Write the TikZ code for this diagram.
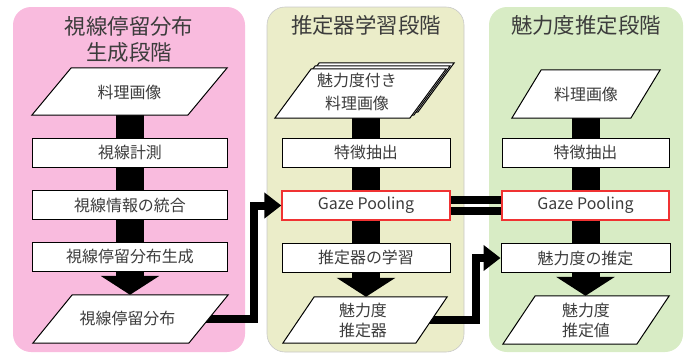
\documentclass[tikz,border=0pt]{standalone}
\usepackage{fontspec}
\setmainfont{Noto Sans CJK JP}
\usetikzlibrary{arrows.meta}
\definecolor{pinkbg}{RGB}{249,187,222}
\definecolor{olivebg}{RGB}{235,237,201}
\definecolor{greenbg}{RGB}{216,236,197}
\definecolor{txt}{RGB}{60,60,60}
\definecolor{gpred}{RGB}{240,50,50}
\definecolor{pline}{RGB}{200,200,200}
\newcommand{\pgshape}[4]{\draw[pgram] ([shift={(#3,#4)}]#1.south west) -- ++(#2,0) -- ([shift={(#3,#4)}]#1.north east) -- ++(-#2,0) -- cycle;}
\begin{document}
\begin{tikzpicture}[x=1bp,y=-1bp,
  panel/.style={rounded corners=18bp, line width=0.6bp},
  title/.style={text=txt, font=\fontsize{21.5}{26}\selectfont, align=center, inner sep=0},
  box/.style={draw=black, fill=white, line width=1bp, minimum height=29bp, inner sep=0, text=txt, font=\fontsize{16}{20}\selectfont},
  gpbox/.style={box, draw=gpred, line width=1.3bp},
  slot/.style={inner sep=0, minimum width=#1},
  ptext/.style={text=txt, font=\fontsize{16}{20}\selectfont, align=center, inner sep=0},
  pgram/.style={draw=black, fill=white, line width=1bp, line join=miter},
  shaft/.style={line width=28bp, draw=black},
  downarrow/.style={shaft, -{Triangle[length=19bp,width=58bp]}},
  conn/.style={line width=8bp, draw=black, line join=miter, -{Triangle[length=17bp,width=25bp]}},
  bar/.style={line width=8bp, draw=black}
]
\useasboundingbox (0,0) rectangle (689,354);
% panels
\fill[panel, pinkbg] (13,7) rectangle (245,352);
\filldraw[panel, fill=olivebg, draw=pline] (267,7) rectangle (464,352);
\fill[panel, greenbg] (489,7) rectangle (683,352);
\node[title] (t1) at (129,39) {視線停留分布\\生成段階};
\node[title] (t2) at (366,25) {推定器学習段階};
\node[title] (t3) at (586,25) {魅力度推定段階};

% parallelogram slots
\node[slot=195bp, minimum height=47bp] (pA0) at (129.5,91.5) {};
\node[slot=195bp, minimum height=48bp] (pA) at (130.5,319) {};
\node[slot=171bp, minimum height=49bp] (pS) at (360.5,93.5) {};
\node[slot=164bp, minimum height=46bp] (pB) at (365,320) {};
\node[slot=148bp, minimum height=48bp] (pC0) at (586,94) {};
\node[slot=166bp, minimum height=48bp] (pC) at (586,320) {};

% boxes
\node[box, minimum width=194bp] (a1) at (130,152.5) {視線計測};
\node[box, minimum width=194bp] (a2) at (130,205) {視線情報の統合};
\node[box, minimum width=194bp] (a3) at (130,256.5) {視線停留分布生成};
\node[box, minimum width=168bp] (b1) at (366,152.5) {特徴抽出};
\node[gpbox, minimum width=168bp] (b2) at (366,205.5) {Gaze Pooling};
\node[box, minimum width=168bp] (b3) at (366,257.5) {推定器の学習};
\node[box, minimum width=167bp] (c1) at (585.5,152.5) {特徴抽出};
\node[gpbox, minimum width=167bp] (c2) at (585.5,205.5) {Gaze Pooling};
\node[box, minimum width=169bp] (c3) at (585.5,258) {魅力度の推定};

% vertical shafts
\draw[shaft] (a1.north |- pA0.south) -- (a1.north);
\draw[shaft] (a1.south) -- (a2.north);
\draw[shaft] (a2.south) -- (a3.north);
\draw[downarrow] (a3.south) -- (a3.south |- pA.north);
\draw[shaft] (b1.north |- pS.south) -- (b1.north);
\draw[shaft] (b1.south) -- (b2.north);
\draw[shaft] (b2.south) -- (b3.north);
\draw[downarrow] (b3.south) -- (b3.south |- pB.north);
\draw[shaft] (c1.north |- pC0.south) -- (c1.north);
\draw[shaft] (c1.south) -- (c2.north);
\draw[shaft] (c2.south) -- (c3.north);
\draw[downarrow] (c3.south) -- (c3.south |- pC.north);

% cross connectors
\coordinate (kA) at (254,0);
\coordinate (kB) at (476,0);
\draw[conn] (pA.center) -| (kA |- b2.west) -- (b2.west);
\draw[conn] (pB.center) -| (kB |- c3.west) -- (c3.west);
\draw[bar] ([yshift=5.75bp]b2.east) -- ([yshift=5.75bp]c2.west);
\draw[bar] ([yshift=-5.75bp]b2.east) -- ([yshift=-5.75bp]c2.west);

% parallelogram shapes
\pgshape{pA0}{156}{0}{0}
\pgshape{pA}{156}{0}{0}
\pgshape{pS}{135}{8}{-6}
\pgshape{pS}{135}{4}{-3}
\pgshape{pS}{135}{0}{0}
\pgshape{pB}{133}{0}{0}
\pgshape{pC0}{119}{0}{0}
\pgshape{pC}{134}{0}{0}

% parallelogram texts
\node[ptext] (tA0) at (129.5,92) {料理画像};
\node[ptext] (tA) at (127.5,318) {視線停留分布};
\node[ptext, font=\fontsize{16}{23}\selectfont] (tS) at (357,92) {魅力度付き\\料理画像};
\node[ptext] (tB) at (363,320) {魅力度\\推定器};
\node[ptext] (tC0) at (586,94) {料理画像};
\node[ptext] (tC) at (586,320) {魅力度\\推定値};
\end{tikzpicture}
\end{document}
